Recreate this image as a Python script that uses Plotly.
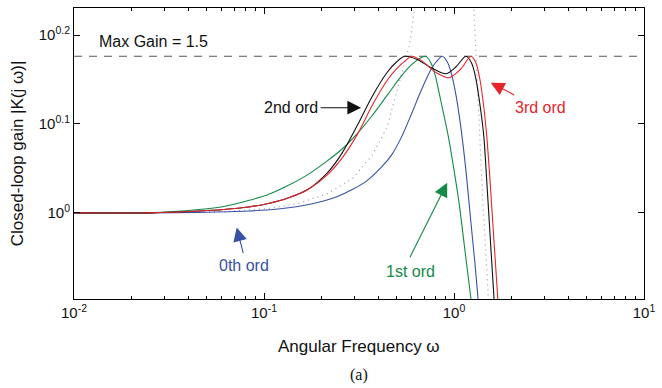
import math
import plotly.graph_objects as go

# ---------------- data ----------------
w_0th = [0.01, 0.025, 0.0455, 0.08286, 0.11867, 0.15083, 0.19165, 0.24355, 0.29148, 0.34882,
         0.41747, 0.47065, 0.53050, 0.59811, 0.67424, 0.76017, 0.80711, 0.86713, 0.92065,
         0.96583, 1.02541, 1.08862, 1.15575, 1.22744, 1.28769, 1.33488, 1.40034]
g_0th = [1.000, 1.000, 1.0013, 1.0047, 1.0099, 1.0164, 1.0270, 1.0431, 1.0621, 1.0872,
         1.1271, 1.1628, 1.2183, 1.2928, 1.3757, 1.4525, 1.4791, 1.500, 1.4791,
         1.4376, 1.3546, 1.2439, 1.1157, 0.9752, 0.8794, 0.8053, 0.7187]

w_1st = [0.01, 0.025, 0.0455, 0.06142, 0.08286, 0.10529, 0.13377, 0.17004, 0.21606, 0.25857,
         0.30946, 0.37037, 0.44334, 0.53050, 0.59811, 0.65828, 0.70742, 0.75102, 0.79751,
         0.83658, 0.88818, 0.93173, 1.00115, 1.06287, 1.14199, 1.22744, 1.31888]
g_1st = [1.000, 1.000, 1.0086, 1.0164, 1.0323, 1.0485, 1.0732, 1.1041, 1.1449, 1.1807,
         1.2278, 1.2861, 1.3546, 1.4265, 1.4677, 1.4910, 1.500, 1.4791, 1.4265,
         1.3616, 1.2828, 1.2214, 1.1157, 1.0270, 0.9071, 0.8011, 0.7076]

w_2nd = [0.01, 0.025, 0.0455, 0.06142, 0.08286, 0.10529, 0.13377, 0.17004, 0.21606, 0.25857,
         0.30946, 0.37037, 0.44334, 0.49951, 0.55000, 0.63506, 0.76017, 0.90970, 1.02541,
         1.15575, 1.24222, 1.30319, 1.36721, 1.43427, 1.48661, 1.54097, 1.59731, 1.65577]
g_2nd = [1.000, 1.000, 1.0047, 1.0086, 1.0151, 1.0244, 1.0390, 1.0621, 1.1098, 1.1688,
         1.2536, 1.3511, 1.4376, 1.4791, 1.500, 1.4891, 1.4563, 1.4339, 1.4601,
         1.500, 1.4715, 1.4154, 1.3267, 1.2214, 1.0872, 0.9602, 0.8481, 0.7490]

w_3rd = [0.01, 0.025, 0.0455, 0.06142, 0.08286, 0.10529, 0.13377, 0.17004, 0.21606, 0.25857,
         0.30946, 0.37037, 0.44334, 0.49951, 0.56332, 0.59811, 0.67424, 0.80711, 0.94295,
         1.08862, 1.22744, 1.30319, 1.36721, 1.43427, 1.48661, 1.54097, 1.59731, 1.65577,
         1.71634]
g_3rd = [1.000, 1.000, 1.0047, 1.0086, 1.0151, 1.0244, 1.0390, 1.0621, 1.1041, 1.1538,
         1.2246, 1.3199, 1.4082, 1.4525, 1.4872, 1.500, 1.4833, 1.4376, 1.4191,
         1.4525, 1.500, 1.4753, 1.4154, 1.3165, 1.2214, 1.1013, 0.9803, 0.8727,
         0.7764]

w_ref = [0.01, 0.025, 0.06289, 0.10529, 0.15083, 0.21606, 0.29148, 0.37037, 0.44334, 0.49951,
         0.55000, 0.58396, 0.62005, 0.64270, 0.80, 1.00, 1.15, 1.22744, 1.27237, 1.31888,
         1.36721, 1.41720, 1.46893, 1.50451, 1.55955]
g_ref = [1.000, 1.000, 1.0034, 1.0112, 1.0244, 1.0512, 1.0928, 1.1598, 1.2471, 1.3651,
         1.4753, 1.5456, 1.700, 1.824, 2.5, 3.0, 2.5, 1.824, 1.700, 1.4265,
         1.2056, 1.0323, 0.9071, 0.8116, 0.7187]

max_gain = 1.5

x_tickvals = [0.01, 0.1, 1, 10]
x_ticktext = ["10<sup>-2</sup>", "10<sup>-1</sup>", "10<sup>0</sup>", "10<sup>1</sup>"]
x_minor = [m * d for d in (0.01, 0.1, 1) for m in range(2, 10)]
y_tickvals = [1.0, 10 ** 0.1, 10 ** 0.2]
y_ticktext = ["10<sup>0</sup>", "10<sup>0.1</sup>", "10<sup>0.2</sup>"]

# ---------------- styling ----------------
FONT = "Liberation Sans, Arial, Helvetica, sans-serif"
C_BLUE = "#3752a4"
C_GREEN = "#138a48"
C_RED = "#e6242b"
C_BLACK = "#111111"
C_DOT = "#9a9a9a"

fig = go.Figure()

fig.add_trace(go.Scatter(x=[0.01, 10], y=[max_gain, max_gain], mode="lines",
                         line=dict(color="#555555", width=1.1, dash="8px,7px"),
                         hoverinfo="skip", showlegend=False))
fig.add_trace(go.Scatter(x=w_ref, y=g_ref, mode="lines",
                         line=dict(color=C_DOT, width=1.2, dash="1px,4px", shape="linear"),
                         showlegend=False))
for w, g, c in [(w_0th, g_0th, C_BLUE), (w_1st, g_1st, C_GREEN),
                (w_2nd, g_2nd, C_BLACK), (w_3rd, g_3rd, C_RED)]:
    fig.add_trace(go.Scatter(x=w, y=g, mode="lines",
                             line=dict(color=c, width=1.1, shape="spline", smoothing=0.8),
                             showlegend=False))

def L(v):
    return math.log10(v)

ann = []
ann.append(dict(x=L(0.01324), y=L(1.557), xref="x", yref="y", text="Max Gain = 1.5",
                showarrow=False, xanchor="left", yanchor="middle",
                font=dict(family=FONT, size=16, color="#111111")))
arrows = [
    (0.3245, 1.313, -42, 0, C_BLACK),
    (1.56, 1.401, 25, 13, C_RED),
    (0.0718, 0.9627, 7, 27, C_BLUE),
    (0.921, 1.081, -38, 76, C_GREEN),
]
for x, y, ax, ay, c in arrows:
    ann.append(dict(x=L(x), y=L(y), xref="x", yref="y", text="", showarrow=True,
                    ax=ax, ay=ay, arrowhead=2, arrowsize=2.5, arrowwidth=1.1,
                    arrowcolor=c, standoff=0, startstandoff=0))
labels = [
    (0.1387, 1.313, "2nd ord", C_BLACK),
    (2.84, 1.313, "3rd ord", C_RED),
    (0.078, 0.8727, "0th ord", C_BLUE),
    (0.5877, 0.859, "1st ord", C_GREEN),
]
for x, y, t, c in labels:
    ann.append(dict(x=L(x), y=L(y), xref="x", yref="y", text=t, showarrow=False,
                    xanchor="center", yanchor="middle",
                    font=dict(family=FONT, size=16, color=c)))

MT, MB, ML, MR = 7, 89, 74, 11
H_PLOT = 388 - MT - MB
W_PLOT = 662 - ML - MR

def py(pix):
    return (388 - MB - pix) / H_PLOT

ann.append(dict(x=0.5, y=py(347), xref="paper", yref="paper", text="Angular Frequency ω",
                showarrow=False, yanchor="middle",
                font=dict(family=FONT, size=17, color="#111111")))
ann.append(dict(x=0.5, y=py(375), xref="paper", yref="paper", text="(a)",
                showarrow=False, yanchor="middle",
                font=dict(family="Liberation Serif, Times New Roman, serif",
                          size=16, color="#111111")))
ann.append(dict(x=(17 - ML) / W_PLOT, y=0.5, xref="paper", yref="paper",
                text="Closed-loop gain |K(j ω)|", textangle=-90, showarrow=False,
                xanchor="center", yanchor="middle",
                font=dict(family=FONT, size=17, color="#111111")))
fig.update_layout(annotations=ann)

fig.update_xaxes(type="log", range=[-2, 1], tickvals=x_tickvals, ticktext=x_ticktext,
                 ticks="inside", ticklen=6, tickcolor="black", showline=True,
                 linecolor="black", linewidth=1, mirror="ticks", showgrid=False,
                 zeroline=False, tickfont=dict(family=FONT, size=15, color="#111111"),
                 ticklabeloverflow="allow",
                 minor=dict(tickvals=x_minor, ticks="inside", ticklen=3,
                            tickcolor="black", showgrid=False))
fig.update_yaxes(type="log", range=[L(0.8), L(1.7)], tickvals=y_tickvals, ticktext=y_ticktext,
                 ticks="inside", ticklen=6, tickcolor="black", showline=True,
                 linecolor="black", linewidth=1, mirror="ticks", showgrid=False,
                 zeroline=False, tickfont=dict(family=FONT, size=15, color="#111111"))

fig.update_layout(width=662, height=388, margin=dict(l=ML, r=MR, t=MT, b=MB),
                  paper_bgcolor="white", plot_bgcolor="white", showlegend=False)

fig.write_html("out.html")
